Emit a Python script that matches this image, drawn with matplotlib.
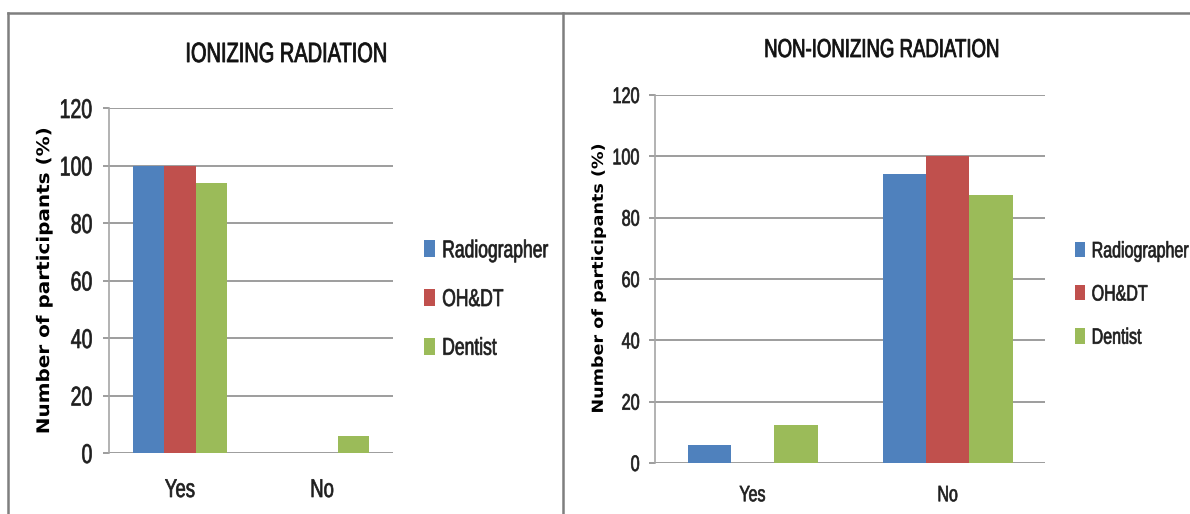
import matplotlib
matplotlib.use("Agg")
import matplotlib.pyplot as plt
import matplotlib.patheffects as pe
from matplotlib.lines import Line2D
from matplotlib.transforms import Affine2D
import numpy as np

plt.rcParams['font.family'] = ['Liberation Sans', 'DejaVu Sans']

# survey answers, percent of participants per profession
categories = ["Yes", "No"]
professions = ["Radiographer", "OH&DT", "Dentist"]
ionizing = {
    "Radiographer": [100, 0],
    "OH&DT": [100, 0],
    "Dentist": [94, 6],
}
non_ionizing = {
    "Radiographer": [5.9, 94.1],
    "OH&DT": [0, 100],
    "Dentist": [12.5, 87.5],
}
yticks = [0, 20, 40, 60, 80, 100, 120]

colors = ["#4F81BD", "#C0504D", "#9BBB59"]
grid_c = "#8C8C8C"
spine_c = "#A6A6A6"
text_c = "#1E1E1E"
W, H = 1190, 514


class Squeeze(pe.AbstractPathEffect):
    """Scale glyphs along the text direction (fake condensed font),
    with an optional outline to thicken the strokes again."""

    def __init__(self, sx, anchor="center", thicken=0.0):
        super().__init__()
        self.sx = sx
        self.anchor = anchor
        self.thicken = thicken

    def draw_path(self, renderer, gc, tpath, affine, rgbFace=None):
        ext = tpath.get_extents()
        cx = {"left": 0.0, "center": (ext.x0 + ext.x1) / 2,
              "right": ext.x1}[self.anchor]
        sq = Affine2D().translate(-cx, 0).scale(self.sx, 1).translate(cx, 0)
        gc0 = renderer.new_gc()
        gc0.copy_properties(gc)
        if self.thicken and rgbFace is not None:
            gc0.set_linewidth(self.thicken)
            gc0.set_foreground(rgbFace)
        renderer.draw_path(gc0, tpath, sq + affine, rgbFace)
        gc0.restore()


NARROW = 0.72


def px_box(x0, x1, ytop, ybot):
    return [x0 / W, 1 - ybot / H, (x1 - x0) / W, (ybot - ytop) / H]


def draw_panel(ax, data, title, title_xy, title_fs, ytick_fs, xtick_fs, xpad,
               ypad, ylab_fs, ylab_x, leg_anchor, leg_fs, leg_space):
    x = np.arange(len(categories))
    bw = 1 / 4.5  # gap width of 150%
    for i, name in enumerate(professions):
        ax.bar(x + (i - 1) * bw, data[name], bw, color=colors[i], label=name,
               edgecolor="none", zorder=3)
    ax.set_xlim(-0.5, 1.5)
    ax.set_ylim(0, 120)
    ax.set_yticks(yticks)
    ax.set_xticks(x)
    ax.set_xticklabels(categories)
    ax.yaxis.grid(True, color=grid_c, linewidth=1.2, zorder=0)
    ax.set_axisbelow(True)
    for s in ["top", "right", "bottom"]:
        ax.spines[s].set_visible(False)
    ax.spines["left"].set_color(spine_c)
    ax.spines["left"].set_linewidth(1.2)
    ax.tick_params(axis="y", length=4.3, color=grid_c, width=1.2,
                   labelsize=ytick_fs, pad=ypad, labelcolor=text_c)
    ax.tick_params(axis="x", length=0, labelsize=xtick_fs, pad=xpad,
                   labelcolor=text_c)
    for t in ax.get_yticklabels():
        t.set_path_effects([Squeeze(NARROW, "right", 0.5)])
    for t in ax.get_xticklabels():
        t.set_path_effects([Squeeze(NARROW, "center", 0.5)])

    lab = ax.set_ylabel("Number of participants (%)", family="DejaVu Sans",
                        fontweight="bold", fontsize=ylab_fs, color="black")
    lab.set_path_effects([Squeeze(1.15, "center")])
    ax.yaxis.set_label_coords(ylab_x, 0.5)

    tt = fig.text(title_xy[0] / W, 1 - title_xy[1] / H, title,
                  fontsize=title_fs, ha="center", va="center", color="#111111")
    tt.set_path_effects([Squeeze(NARROW, "center", 0.6)])

    leg = ax.legend(loc="center left", bbox_to_anchor=leg_anchor,
                    bbox_transform=fig.transFigure, frameon=False,
                    fontsize=leg_fs, handlelength=0.45, handleheight=0.7,
                    handletextpad=0.3, labelspacing=leg_space,
                    borderaxespad=0, borderpad=0, labelcolor=text_c)
    for t in leg.get_texts():
        t.set_path_effects([Squeeze(NARROW, "left", 0.5)])


fig = plt.figure(figsize=(W / 100, H / 100), dpi=100)

ax1 = fig.add_axes(px_box(109, 393, 108, 453))
draw_panel(ax1, ionizing, "IONIZING RADIATION", (286, 55), 20, 19.5, 18.5,
           18, 7.5, 12.5, -0.197, (424 / W, 1 - 300 / H), 17.5, 1.1)

ax2 = fig.add_axes(px_box(655, 1045, 95, 463))
draw_panel(ax2, non_ionizing, "NON-IONIZING RADIATION", (882, 50), 18.6,
           16.2, 16, 16, 6.5, 11, -0.126, (1075 / W, 1 - 295 / H), 16, 1.0)

# outer frame lines of the two panels
frame = dict(color="#7F7F7F", linewidth=1.8, transform=fig.transFigure)
top = 1 - 13 / H
fig.add_artist(Line2D([8 / W, 1], [top, top], **frame))
fig.add_artist(Line2D([8 / W, 8 / W], [0, top], **frame))
fig.add_artist(Line2D([563 / W, 563 / W], [0, top], **frame))

fig.savefig("out.png", dpi=100)
